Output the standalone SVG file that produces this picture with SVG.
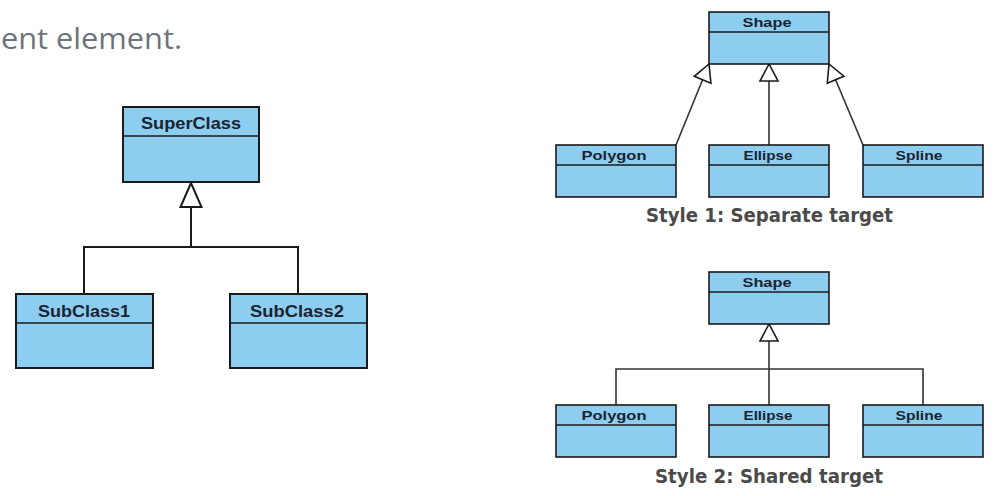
<svg xmlns="http://www.w3.org/2000/svg" width="1000" height="496" viewBox="0 0 1000 496">
  <style>
    .box { fill: #8dcdf0; stroke: #1a1a1a; stroke-width: 2; }
    .sbox { fill: #8dcdf0; stroke: #1a1a1a; stroke-width: 1.6; }
    .div { stroke: #1a1a1a; stroke-width: 1.6; }
    .big { font-family: "Liberation Sans", Arial, sans-serif; font-weight: bold; font-size: 17px; fill: #1b2330; text-anchor: middle; }
    .small { font-family: "Liberation Sans", Arial, sans-serif; font-weight: bold; font-size: 13px; fill: #1b2330; text-anchor: middle; }
    .cap { font-family: "DejaVu Sans", "Liberation Sans", sans-serif; font-weight: bold; font-size: 19px; fill: #4a4a4a; }
    .conn { fill: none; stroke: #1a1a1a; stroke-width: 2; }
    .sconn { fill: none; stroke: #333333; stroke-width: 1.6; }
    .intro { font-family: "Open Sans", "Liberation Sans", sans-serif; font-size: 30px; fill: #6c737b; }
  </style>
  <defs>
    <marker id="triBig" viewBox="-26 -12 28 24" refX="0" refY="0" markerWidth="28" markerHeight="24" markerUnits="userSpaceOnUse" orient="auto">
      <path d="M0,0 L-24,-10.5 L-24,10.5 Z" fill="#ffffff" stroke="#1a1a1a" stroke-width="2"/>
    </marker>
    <marker id="triSmall" viewBox="-19 -11 21 22" refX="0" refY="0" markerWidth="21" markerHeight="22" markerUnits="userSpaceOnUse" orient="auto">
      <path d="M0,0 L-17,-9 L-17,9 Z" fill="#ffffff" stroke="#1a1a1a" stroke-width="1.6"/>
    </marker>
  </defs>
  <rect width="1000" height="496" fill="#ffffff"/>

  <text class="intro" x="1" y="49" textLength="181" lengthAdjust="spacingAndGlyphs">ent element.</text>

  <g id="connectors">
    <polyline class="conn" points="84,294 84,247 298,247 298,294"/>
    <line class="conn" x1="191" y1="247" x2="191" y2="183" marker-end="url(#triBig)"/>
    <line class="sconn" x1="676" y1="145" x2="709" y2="64" marker-end="url(#triSmall)"/>
    <line class="sconn" x1="769" y1="145" x2="769" y2="64" marker-end="url(#triSmall)"/>
    <line class="sconn" x1="863" y1="145" x2="829" y2="64" marker-end="url(#triSmall)"/>
    <polyline class="sconn" points="616,405 616,369 923,369 923,405"/>
    <line class="sconn" x1="769" y1="405" x2="769" y2="324" marker-end="url(#triSmall)"/>
  </g>

  <g id="superclass">
    <rect class="box" x="123" y="107" width="136" height="75"/>
    <line class="div" x1="123" y1="136" x2="259" y2="136" stroke-width="2"/>
    <text class="big" x="191" y="129" textLength="100" lengthAdjust="spacingAndGlyphs">SuperClass</text>
  </g>
  <g id="subclass1">
    <rect class="box" x="16" y="294" width="137" height="74"/>
    <line class="div" x1="16" y1="323" x2="153" y2="323" stroke-width="2"/>
    <text class="big" x="84" y="317" textLength="92" lengthAdjust="spacingAndGlyphs">SubClass1</text>
  </g>
  <g id="subclass2">
    <rect class="box" x="230" y="294" width="137" height="74"/>
    <line class="div" x1="230" y1="323" x2="367" y2="323" stroke-width="2"/>
    <text class="big" x="297" y="317" textLength="94" lengthAdjust="spacingAndGlyphs">SubClass2</text>
  </g>

  <g id="shape1">
    <rect class="sbox" x="709" y="12" width="120" height="52"/>
    <line class="div" x1="709" y1="32" x2="829" y2="32"/>
    <text class="small" x="767" y="27" textLength="49" lengthAdjust="spacingAndGlyphs">Shape</text>
  </g>
  <g id="polygon1">
    <rect class="sbox" x="556" y="145" width="120" height="52"/>
    <line class="div" x1="556" y1="165" x2="676" y2="165"/>
    <text class="small" x="614" y="160" textLength="65" lengthAdjust="spacingAndGlyphs">Polygon</text>
  </g>
  <g id="ellipse1">
    <rect class="sbox" x="709" y="145" width="120" height="52"/>
    <line class="div" x1="709" y1="165" x2="829" y2="165"/>
    <text class="small" x="768" y="160" textLength="49" lengthAdjust="spacingAndGlyphs">Ellipse</text>
  </g>
  <g id="spline1">
    <rect class="sbox" x="863" y="145" width="120" height="52"/>
    <line class="div" x1="863" y1="165" x2="983" y2="165"/>
    <text class="small" x="919" y="160" textLength="47" lengthAdjust="spacingAndGlyphs">Spline</text>
  </g>
  <text class="cap" x="646" y="222" textLength="247" lengthAdjust="spacingAndGlyphs">Style 1: Separate target</text>

  <g id="shape2">
    <rect class="sbox" x="709" y="272" width="120" height="52"/>
    <line class="div" x1="709" y1="292" x2="829" y2="292"/>
    <text class="small" x="767" y="287" textLength="49" lengthAdjust="spacingAndGlyphs">Shape</text>
  </g>
  <g id="polygon2">
    <rect class="sbox" x="556" y="405" width="120" height="52"/>
    <line class="div" x1="556" y1="425" x2="676" y2="425"/>
    <text class="small" x="614" y="420" textLength="65" lengthAdjust="spacingAndGlyphs">Polygon</text>
  </g>
  <g id="ellipse2">
    <rect class="sbox" x="709" y="405" width="120" height="52"/>
    <line class="div" x1="709" y1="425" x2="829" y2="425"/>
    <text class="small" x="768" y="420" textLength="49" lengthAdjust="spacingAndGlyphs">Ellipse</text>
  </g>
  <g id="spline2">
    <rect class="sbox" x="863" y="405" width="120" height="52"/>
    <line class="div" x1="863" y1="425" x2="983" y2="425"/>
    <text class="small" x="919" y="420" textLength="47" lengthAdjust="spacingAndGlyphs">Spline</text>
  </g>
  <text class="cap" x="655" y="483" textLength="228" lengthAdjust="spacingAndGlyphs">Style 2: Shared target</text>
</svg>
